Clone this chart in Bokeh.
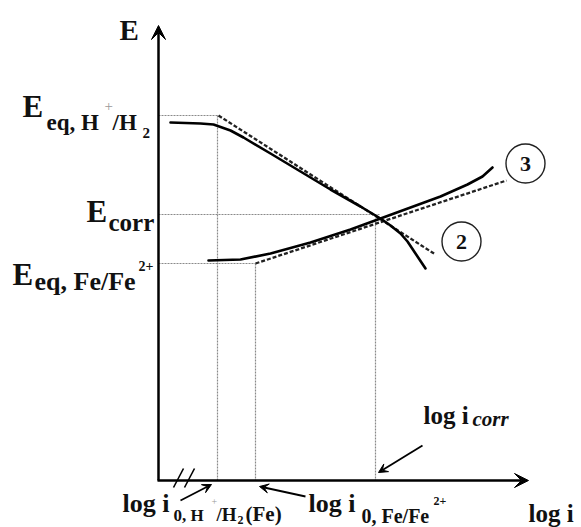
from bokeh.plotting import figure
from bokeh.models import Range1d, Arrow, VeeHead
from bokeh.core.properties import value
from bokeh.embed import file_html
from bokeh.resources import INLINE

# Schematic Evans diagram for iron corroding in acid.
# Horizontal coordinate: log i (arbitrary units); vertical: E (arbitrary units).

# characteristic potentials and currents
E_EQ_H = 412
E_CORR = 313
E_EQ_FE = 264
LOG_I0_H = 217
LOG_I0_FE = 255
LOG_I_CORR = 375
E_ORIGIN = 47
LOGI_ORIGIN = 158

# cathodic (hydrogen evolution) polarization curve
cath_logi = [170, 200, 213, 230, 243, 270, 300, 330, 360, 380, 390, 400, 407, 413, 419, 425]
cath_E = [405, 404, 403, 397, 390, 374, 356, 338, 321, 309, 302, 294, 286, 277, 268, 259]

# anodic (iron dissolution) polarization curve
anod_logi = [208, 240, 270, 310, 350, 380, 410, 440, 467, 482, 492]
anod_E = [267, 268, 274, 285, 298, 309, 320, 331, 343, 351, 360]

# Tafel extrapolations (start and end points)
tafel_cath_logi = [LOG_I0_H + 1, 435]
tafel_cath_E = [E_EQ_H, 273]
tafel_anod_logi = [LOG_I0_FE, 506]
tafel_anod_E = [E_EQ_FE, 347]

# curve markers
marker_logi = [525, 461]
marker_E = [364, 286]
marker_text = ["3", "2"]

W, H = 581, 527
p = figure(width=W, height=H, output_backend="svg", toolbar_location=None,
           x_range=Range1d(0, W), y_range=Range1d(0, H), min_border=0)
p.axis.visible = False
p.grid.visible = False
p.outline_line_color = None
p.background_fill_color = "white"
p.border_fill_color = "white"

SERIF = value("Liberation Serif")
GUIDE = dict(line_color="#8a8a8a", line_width=1.2, line_dash="2 1")

# dotted guide lines
p.line([LOGI_ORIGIN, LOG_I0_H + 1], [E_EQ_H, E_EQ_H], **GUIDE)
p.line([LOGI_ORIGIN, 380], [E_CORR, E_CORR], **GUIDE)
p.line([LOGI_ORIGIN, LOG_I0_FE], [E_EQ_FE, E_EQ_FE], **GUIDE)
p.line([LOG_I0_H, LOG_I0_H], [E_EQ_H, E_ORIGIN], **GUIDE)
p.line([LOG_I0_FE, LOG_I0_FE], [E_EQ_FE, E_ORIGIN], **GUIDE)
p.line([LOG_I_CORR, LOG_I_CORR], [E_CORR - 4, E_ORIGIN], **GUIDE)

# Tafel lines
TAFEL = dict(line_color="#222222", line_width=2.3, line_dash="4 2")
p.line(tafel_cath_logi, tafel_cath_E, **TAFEL)
p.line(tafel_anod_logi, tafel_anod_E, **TAFEL)

# polarization curves
CURVE = dict(line_color="black", line_width=2.6, line_join="round", line_cap="round")
p.line(cath_logi, cath_E, **CURVE)
p.line(anod_logi, anod_E, **CURVE)

# axes with arrow heads
p.add_layout(Arrow(end=VeeHead(size=14, fill_color="black", line_color="black"),
                   x_start=LOGI_ORIGIN, y_start=E_ORIGIN, x_end=LOGI_ORIGIN, y_end=502,
                   line_width=2.5, line_color="black"))
p.add_layout(Arrow(end=VeeHead(size=14, fill_color="black", line_color="black"),
                   x_start=LOGI_ORIGIN - 1, y_start=E_ORIGIN, x_end=528, y_end=E_ORIGIN,
                   line_width=2.5, line_color="black"))

# axis break marks
p.segment(x0=[173, 184], y0=[40, 40], x1=[183, 194], y1=[59, 59],
          line_color="black", line_width=1.6)

# pointer arrows to the current labels
for xs, ys, xe, ye in [(180, 27, 211, 43), (305, 31, 259, 41), (422, 82, 378, 55)]:
    p.add_layout(Arrow(end=VeeHead(size=9, fill_color="black", line_color="black"),
                       x_start=xs, y_start=ys, x_end=xe, y_end=ye,
                       line_width=1.8, line_color="black"))

# numbered circles
p.scatter(marker_logi, marker_E, marker="circle", size=39, fill_color=None,
          line_color="#222222", line_width=1.4)
p.text(marker_logi, marker_E, text=marker_text, text_font=SERIF, text_font_style="bold",
       text_font_size="22px", text_align="center", text_baseline="middle", text_color="#111111")

# text pieces: (x, baseline from top, text, size, style, colour)
labels = [
    (119, 40, "E", 29, "bold", "#111111"),
    (22, 117, "E", 31, "bold", "#111111"),
    (46, 131, "eq, H", 23, "bold", "#111111"),
    (104, 111, "+", 15, "normal", "#9a9a9a"),
    (112, 131, "/H", 23, "bold", "#111111"),
    (142, 138, "2", 15, "bold", "#111111"),
    (86, 222, "E", 31, "bold", "#111111"),
    (108, 231, "corr", 25, "bold", "#111111"),
    (12, 285, "E", 31, "bold", "#111111"),
    (34, 291, "eq, Fe/Fe", 26, "bold", "#111111"),
    (138, 271, "2+", 14, "bold", "#111111"),
    (122, 513, "log i", 26, "bold", "#111111"),
    (173, 521, "0, H", 17, "bold", "#111111"),
    (211, 505, "+", 10, "normal", "#9a9a9a"),
    (216, 521, "/H", 19, "bold", "#111111"),
    (237, 524, "2", 12, "bold", "#111111"),
    (245, 521, "(Fe)", 21, "bold", "#111111"),
    (308, 513, "log i", 26, "bold", "#111111"),
    (361, 523, "0, Fe/Fe", 20, "bold", "#111111"),
    (433, 505, "2+", 12, "bold", "#111111"),
    (423, 424, "log i", 25, "bold", "#111111"),
    (472, 426, "corr", 21, "bold italic", "#111111"),
    (528, 522, "log i", 25, "bold", "#111111"),
]
# the svg text baseline sits a little low, so lift each piece by a share of its size
LIFT = 0.37
for x, yb, t, size, style, col in labels:
    p.text([x], [H - yb + LIFT * size], text=[t], text_font=SERIF, text_font_style=style,
           text_font_size=f"{size}px", text_align="left", text_baseline="alphabetic",
           text_color=col)

open("out.html", "w").write(file_html(p, INLINE))
